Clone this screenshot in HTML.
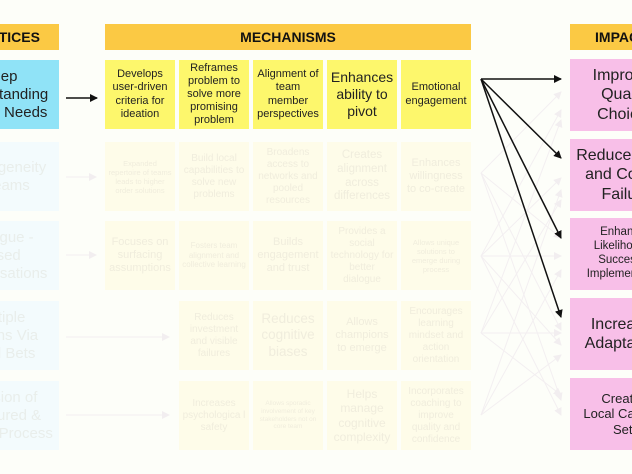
<!DOCTYPE html>
<html><head><meta charset="utf-8"><style>
*{margin:0;padding:0;box-sizing:border-box}
html,body{width:632px;height:474px;overflow:hidden}
body{background:#fdfef9;font-family:"Liberation Sans",Arial,sans-serif;color:#222}
#w{position:relative;width:632px;height:474px;overflow:hidden}
.b{position:absolute;display:flex;align-items:center;justify-content:center;text-align:center;line-height:1.2}
.h{background:#fbc944;font-weight:bold;font-size:14px;color:#111}
.m{background:#fdf76c;font-size:11px;width:70px;height:69px;padding:0 2px}
.f{background:#fefce9;color:#f0eddd;font-size:10px;width:70px;height:69px;padding:0 3px}
.pb{background:#90e3f7;font-size:15px;left:-60px;width:119px;height:69px}
.pf{background:#f3fbfd;color:#e9eeeb;font-size:15px;left:-60px;width:119px;height:69px}
.i{background:#f8bfe8;font-size:16px;left:570px;width:112px;height:72px;color:#222}
</style></head><body><div id="w">
<div class="b h" style="left:-60px;top:24px;width:119px;height:26px">PRACTICES</div>
<div class="b h" style="left:105px;top:24px;width:366px;height:26px">MECHANISMS</div>
<div class="b h" style="left:570px;top:24px;width:112px;height:26px">IMPACTS</div>

<div class="b pb" style="top:60px">Deep<br>Understanding<br>of User Needs</div>
<div class="b pf" style="top:142px">Heterogeneity<br>of Teams</div>
<div class="b pf" style="top:221px">Dialogue -<br>Based<br>Conversations</div>
<div class="b pf" style="top:301px">Multiple<br>Options Via<br>Small Bets</div>
<div class="b pf" style="top:381px">Inclusion of<br>Structured &amp;<br>Guided Process</div>

<div class="b m" style="left:105px;top:60px">Develops user-driven criteria for ideation</div>
<div class="b m" style="left:179px;top:60px">Reframes problem to solve more promising problem</div>
<div class="b m" style="left:253px;top:60px">Alignment of team member perspectives</div>
<div class="b m" style="left:327px;top:60px;font-size:14px">Enhances ability to pivot</div>
<div class="b m" style="left:401px;top:60px">Emotional engagement</div>

<div class="b f" style="left:105px;top:142px;font-size:7.5px">Expanded repertoire of teams leads to higher order solutions</div>
<div class="b f" style="left:179px;top:142px">Build local capabilities to solve new problems</div>
<div class="b f" style="left:253px;top:142px">Broadens access to networks and pooled resources</div>
<div class="b f" style="left:327px;top:142px;font-size:11.5px">Creates alignment across differences</div>
<div class="b f" style="left:401px;top:142px;font-size:11px">Enhances willingness to co-create</div>

<div class="b f" style="left:105px;top:221px;font-size:11px">Focuses on surfacing assumptions</div>
<div class="b f" style="left:179px;top:221px;font-size:8px">Fosters team alignment and collective learning</div>
<div class="b f" style="left:253px;top:221px;font-size:11px">Builds engagement and trust</div>
<div class="b f" style="left:327px;top:221px">Provides a social technology for better dialogue</div>
<div class="b f" style="left:401px;top:221px;font-size:7.5px">Allows unique solutions to emerge during process</div>

<div class="b f" style="left:179px;top:301px">Reduces investment and visible failures</div>
<div class="b f" style="left:253px;top:301px;font-size:13.5px">Reduces cognitive biases</div>
<div class="b f" style="left:327px;top:301px;font-size:11px">Allows champions to emerge</div>
<div class="b f" style="left:401px;top:301px">Encourages learning mindset and action orientation</div>

<div class="b f" style="left:179px;top:381px">Increases psychologica l safety</div>
<div class="b f" style="left:253px;top:381px;font-size:6.5px">Allows sporadic involvement of key stakeholders not on core team</div>
<div class="b f" style="left:327px;top:381px;font-size:12px">Helps manage cognitive complexity</div>
<div class="b f" style="left:401px;top:381px">Incorporates coaching to improve quality and confidence</div>

<div class="b i" style="top:59px">Improved<br>Quality<br>Choices</div>
<div class="b i" style="top:139px">Reduced Risk<br>and Cost of<br>Failure</div>
<div class="b i" style="top:218px;font-size:11.5px">Enhanced<br>Likelihood of<br>Successful<br>Implementation</div>
<div class="b i" style="top:298px">Increased<br>Adaptability</div>
<div class="b i" style="top:378px;font-size:13px">Creating<br>Local Capacity<br>Sets</div>

<svg width="632" height="474" style="position:absolute;left:0;top:0">
<defs>
<marker id="a" markerWidth="8" markerHeight="8" refX="7" refY="4" orient="auto" markerUnits="userSpaceOnUse"><path d="M0,0 L8,4 L0,8z" fill="#111"/></marker>
<marker id="c" markerWidth="8" markerHeight="8" refX="7" refY="4" orient="auto" markerUnits="userSpaceOnUse"><path d="M0,0 L8,4 L0,8z" fill="#f2eef0"/></marker>
</defs>
<g stroke="#f3eff1" stroke-width="1" fill="none" marker-end="url(#c)">
<line x1="66" y1="177" x2="96" y2="177"/>
<line x1="66" y1="255" x2="96" y2="255"/>
<line x1="66" y1="337" x2="169" y2="337"/>
<line x1="66" y1="415" x2="169" y2="415"/>
<line x1="481" y1="173" x2="561" y2="92"/>
<line x1="481" y1="173" x2="561" y2="238"/>
<line x1="481" y1="173" x2="561" y2="330"/>
<line x1="481" y1="173" x2="561" y2="400"/>
<line x1="481" y1="256" x2="561" y2="110"/>
<line x1="481" y1="256" x2="561" y2="178"/>
<line x1="481" y1="256" x2="561" y2="256"/>
<line x1="481" y1="256" x2="561" y2="345"/>
<line x1="481" y1="256" x2="561" y2="415"/>
<line x1="481" y1="333" x2="561" y2="120"/>
<line x1="481" y1="333" x2="561" y2="200"/>
<line x1="481" y1="333" x2="561" y2="333"/>
<line x1="481" y1="333" x2="561" y2="395"/>
<line x1="481" y1="415" x2="561" y2="190"/>
<line x1="481" y1="415" x2="561" y2="270"/>
<line x1="481" y1="415" x2="561" y2="355"/>
</g>
<g stroke="#111" stroke-width="1.5" fill="none" marker-end="url(#a)">
<line x1="66" y1="98" x2="97" y2="98"/>
<line x1="481" y1="79" x2="561" y2="79"/>
<line x1="481" y1="79" x2="561" y2="158"/>
<line x1="481" y1="79" x2="561" y2="238"/>
<line x1="481" y1="79" x2="561" y2="317"/>
</g>
</svg>
</div></body></html>
